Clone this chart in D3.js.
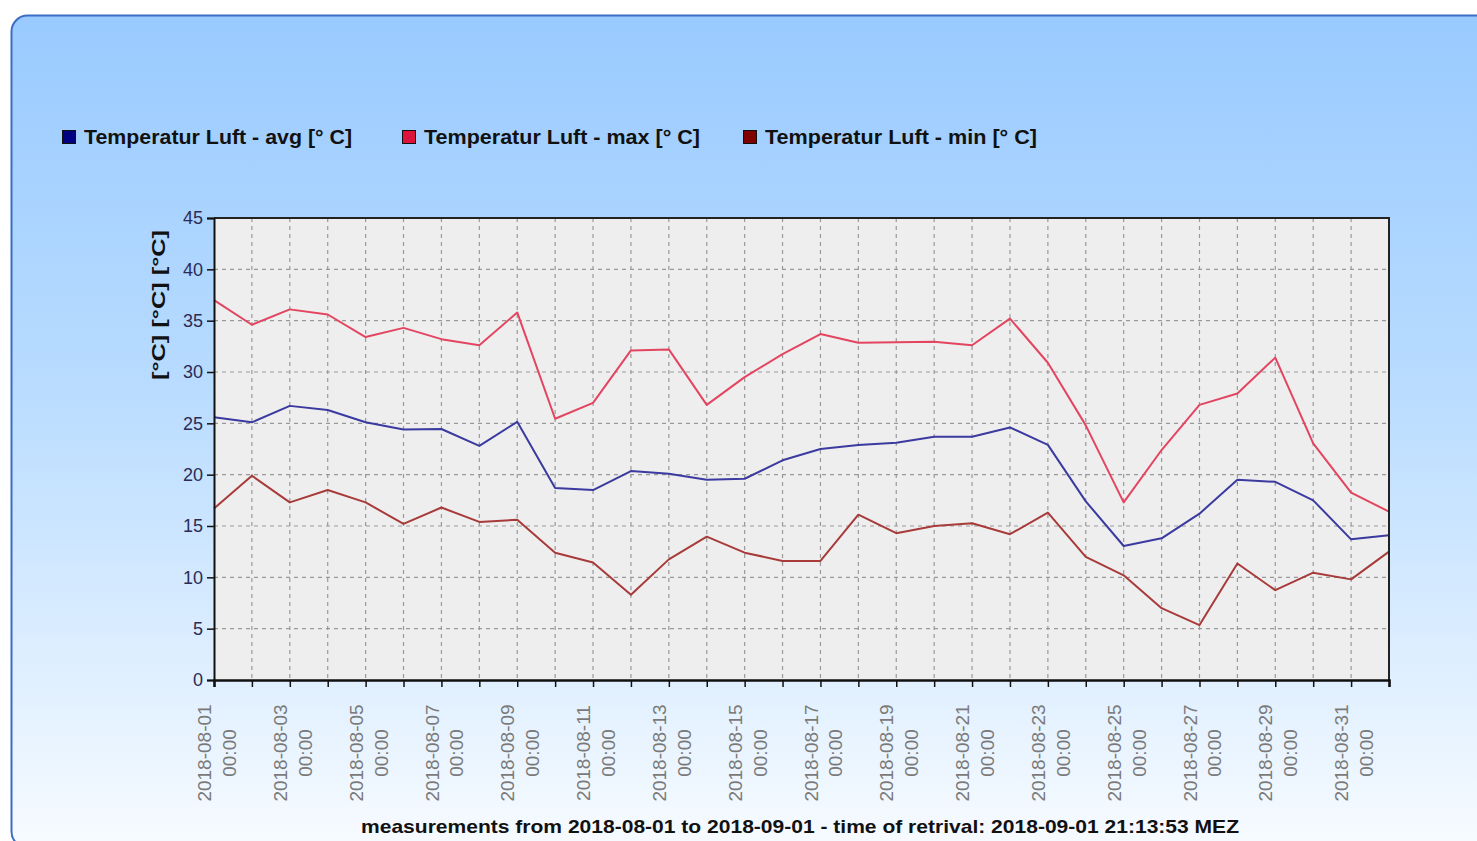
<!DOCTYPE html>
<html>
<head>
<meta charset="utf-8">
<script src="https://cdn.jsdelivr.net/npm/d3@7"></script>
<style>
  body { margin: 0; background: #fff; }
  svg { display: block; font-family: "Liberation Sans", Arial, sans-serif; }
</style>
</head>
<body>
<div id="chart"></div>
<script>
// series data, one value per day, 2018-08-01 .. 2018-09-01
let days = d3.range(32).map(i => new Date(2018, 7, 1 + i));
let tempAvg = [25.6, 25.1, 26.7, 26.3, 25.1, 24.4, 24.45, 22.8, 25.15, 18.7, 18.5, 20.35, 20.1, 19.5, 19.6, 21.4,
    22.5, 22.9, 23.1, 23.7, 23.7, 24.6, 22.9, 17.4, 13.05, 13.8, 16.2, 19.5, 19.3, 17.5, 13.7, 14.1];
let tempMax = [37.0, 34.6, 36.1, 35.6, 33.4, 34.3, 33.2, 32.6, 35.8, 25.45, 27.0, 32.1, 32.2, 26.8, 29.5, 31.75,
    33.7, 32.85, 32.9, 32.95, 32.6, 35.2, 30.9, 24.8, 17.3, 22.4, 26.8, 27.9, 31.4, 23.05, 18.25, 16.4];
let tempMin = [16.7, 19.9, 17.3, 18.5, 17.3, 15.2, 16.8, 15.4, 15.6, 12.4, 11.45, 8.3, 11.75, 13.96, 12.4, 11.6,
    11.6, 16.1, 14.3, 15.0, 15.26, 14.2, 16.3, 12.0, 10.2, 7.0, 5.35, 11.35, 8.75, 10.45, 9.8, 12.5];
let seriesNames = ["Temperatur Luft - avg [° C]", "Temperatur Luft - max [° C]", "Temperatur Luft - min [° C]"];
let legendColors = ["#000080", "#dc143c", "#800000"];
let lineColors = ["#3a3aa0", "#e34560", "#a83a3a"];
let yTicks = [0, 5, 10, 15, 20, 25, 30, 35, 40, 45];

let W = 1477, H = 841;
let plot = { left: 214, top: 218, right: 1389, bottom: 680 };

let svg = d3.select("#chart")
    .append("svg")
    .attr("width", W)
    .attr("height", H);

// panel background
let grad = svg.append("defs").append("linearGradient")
    .attr("id", "bg")
    .attr("x1", 0).attr("y1", 0).attr("x2", 0).attr("y2", 1);
grad.append("stop").attr("offset", "0%").attr("stop-color", "#99caff");
grad.append("stop").attr("offset", "45%").attr("stop-color", "#b9dcff");
grad.append("stop").attr("offset", "100%").attr("stop-color", "#f7fbff");

svg.append("rect")
    .attr("x", 11.5)
    .attr("y", 15.5)
    .attr("width", 1490)
    .attr("height", 832)
    .attr("rx", 16)
    .style("fill", "url(#bg)")
    .style("stroke", "#3c6cc4")
    .style("stroke-width", 2);

let x = d3.scaleTime()
    .domain([days[0], days[days.length - 1]])
    .range([plot.left, plot.right]);

let y = d3.scaleLinear()
    .domain([0, 45])
    .range([plot.bottom, plot.top]);

// plot area
svg.append("rect")
    .attr("x", plot.left)
    .attr("y", plot.top)
    .attr("width", plot.right - plot.left)
    .attr("height", plot.bottom - plot.top)
    .style("fill", "#eeeeee");

// grid
svg.append("g")
    .selectAll("line")
    .data(yTicks.slice(1, -1))
    .join("line")
    .attr("x1", plot.left).attr("x2", plot.right)
    .attr("y1", d => y(d)).attr("y2", d => y(d))
    .style("stroke", "#999")
    .style("stroke-width", 1.2)
    .style("stroke-dasharray", "4,4");

svg.append("g")
    .selectAll("line")
    .data(days.slice(1, -1))
    .join("line")
    .attr("x1", d => x(d)).attr("x2", d => x(d))
    .attr("y1", plot.top).attr("y2", plot.bottom)
    .style("stroke", "#999")
    .style("stroke-width", 1.2)
    .style("stroke-dasharray", "4,4");

// lines
let series = [tempAvg, tempMax, tempMin];
let line = d3.line()
    .x((d, i) => x(days[i]))
    .y(d => y(d));

series.forEach((s, k) => {
    svg.append("path")
        .datum(s)
        .attr("d", line)
        .style("fill", "none")
        .style("stroke", lineColors[k])
        .style("stroke-width", 2)
        .style("stroke-linejoin", "round");
});

// frame top / right
svg.append("path")
    .attr("d", `M${plot.left},${plot.top}H${plot.right}V${plot.bottom}`)
    .style("fill", "none")
    .style("stroke", "#222")
    .style("stroke-width", 2);

// y axis
let yAxis = svg.append("g")
    .attr("transform", "translate(" + plot.left + ",0)")
    .call(d3.axisLeft(y).tickValues(yTicks).tickSize(7).tickPadding(4));
yAxis.select(".domain").style("stroke", "#111").style("stroke-width", 2);
yAxis.selectAll(".tick line").style("stroke", "#111").style("stroke-width", 1.5);
yAxis.selectAll("text")
    .style("font-size", "18px")
    .style("fill", "#2b2b55")
    .style("font-family", "Liberation Sans, Arial, sans-serif");

// x axis
let xAxis = svg.append("g")
    .attr("transform", "translate(0," + plot.bottom + ")")
    .call(d3.axisBottom(x).tickValues(days).tickSize(7).tickFormat(""));
xAxis.select(".domain").style("stroke", "#111").style("stroke-width", 2.5);
xAxis.selectAll(".tick line").style("stroke", "#111").style("stroke-width", 1.5);

let fmtDate = d3.timeFormat("%Y-%m-%d");
let labels = svg.append("g")
    .selectAll("text")
    .data(days.filter((d, i) => i % 2 === 0 && i < 31))
    .join("text")
    .attr("transform", d => "translate(" + (x(d) + 1) + ",753) rotate(-90)")
    .attr("text-anchor", "middle")
    .style("font-size", "19px")
    .style("fill", "#7a7a7a");
labels.append("tspan").attr("x", 0).attr("dy", "-0.2em").text(d => fmtDate(d));
labels.append("tspan").attr("x", 0).attr("dy", "1.3em").text("00:00");

// y axis title
svg.append("text")
    .attr("transform", "translate(165,305) rotate(-90)")
    .attr("text-anchor", "middle")
    .attr("textLength", 150)
    .attr("lengthAdjust", "spacingAndGlyphs")
    .style("font-size", "19px")
    .style("font-weight", "bold")
    .style("fill", "#111")
    .text("[°C]  [°C]  [°C]");

// legend
let legendX = [62, 402, 743];
let legendW = [268, 276, 272];
let legend = svg.append("g")
    .selectAll("g")
    .data(seriesNames)
    .join("g")
    .attr("transform", (d, i) => "translate(" + legendX[i] + ",130)");
legend.append("rect")
    .attr("x", 0.5).attr("y", 0.5)
    .attr("width", 13).attr("height", 13)
    .style("fill", (d, i) => legendColors[i])
    .style("stroke", "#111");
legend.append("text")
    .attr("x", 22)
    .attr("y", 14)
    .attr("textLength", (d, i) => legendW[i])
    .attr("lengthAdjust", "spacingAndGlyphs")
    .style("font-size", "20px")
    .style("font-weight", "bold")
    .style("fill", "#111")
    .text(d => d);

// footer
svg.append("text")
    .attr("x", 361)
    .attr("y", 833)
    .attr("textLength", 878)
    .attr("lengthAdjust", "spacingAndGlyphs")
    .style("font-size", "19px")
    .style("font-weight", "bold")
    .style("fill", "#111")
    .text("measurements from 2018-08-01 to 2018-09-01 - time of retrival:  2018-09-01 21:13:53 MEZ");
</script>
</body>
</html>
